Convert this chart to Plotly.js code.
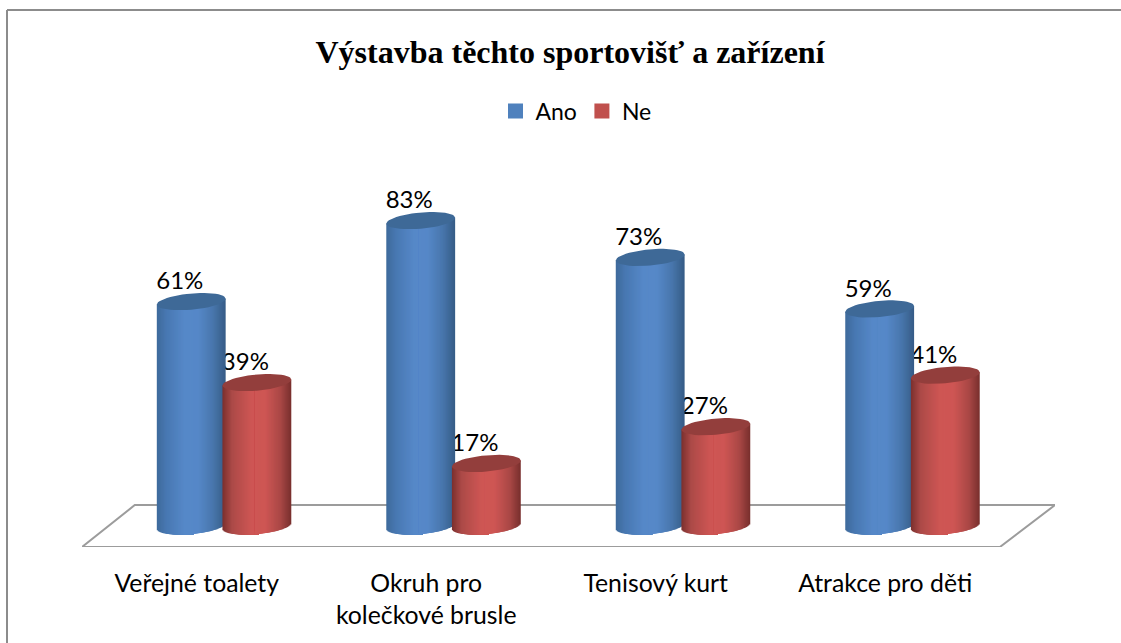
<!DOCTYPE html>
<html>
<head>
<meta charset="utf-8">
<script src="https://cdn.plot.ly/plotly-3.0.1.min.js"></script>
<style>html,body{margin:0;padding:0;background:#fff}#chart{width:1121px;height:643px}</style>
</head>
<body>
<div id="chart"></div>
<script>
const categories = ['Veřejné toalety', 'Okruh pro<br>kolečkové brusle', 'Tenisový kurt', 'Atrakce pro děti'];
const anoValues = [61, 83, 73, 59];
const neValues = [39, 17, 27, 41];
const titleText = 'Výstavba těchto sportovišť a zařízení';

const FONT = 'Lato, "Open Sans", sans-serif';
const W = 1121, H = 643;
const M = {l: 82, r: 66, t: 150, b: 96};
const xRange = [-0.5, 3.74], yRange = [-5.7, 102.2];
const ANO_OFFSET = -0.024, NE_OFFSET = 0.262;   // cylinder centres relative to the tick
const HALF = 0.15, CAP_B = 2.2, TILT = 0.8, STRIPS = 69;
const LABEL_DX = -0.05, LABEL_DY = 5.0;
const blueStops = [[0,[62,106,155]],[0.14,[72,120,178]],[0.4,[86,136,200]],[0.6,[86,136,200]],[0.82,[72,118,172]],[1,[54,92,134]]];
const redStops  = [[0,[124,48,46]],[0.14,[172,74,72]],[0.42,[206,86,84]],[0.62,[206,86,84]],[0.84,[170,72,70]],[1,[120,47,45]]];
const blueCap = '#3e6997', redCap = '#933e3c';

function shade(stops, t) {
  for (let i = 1; i < stops.length; i++) {
    if (t <= stops[i][0]) {
      const a = stops[i-1], b = stops[i], f = (t - a[0]) / (b[0] - a[0]);
      return 'rgb(' + a[1].map((c, k) => Math.round(c + (b[1][k] - c) * f)).join(',') + ')';
    }
  }
  return 'rgb(' + stops[stops.length-1][1].join(',') + ')';
}

function cylinderTraces(values, offset, stops, capColor, name, yaxis) {
  const xs = [], ys = [], bases = [], widths = [], colors = [], capX = [], capY = [];
  const step = 2 * HALF / STRIPS;
  // Strips overlap towards the cylinder's axis and are drawn outside-in, so every
  // bar stays wider than Plotly's thin-bar fade and no seams appear between them.
  const mid = Math.floor(STRIPS / 2);
  const order = [];
  for (let s = 0; s < mid; s++) order.push(s);
  for (let s = STRIPS - 1; s >= mid; s--) order.push(s);
  values.forEach((v, i) => {
    const cx = i + offset;
    order.forEach(s => {
      const t = (s + 0.5) / STRIPS, u = 2 * t - 1;
      const base = -CAP_B * Math.sqrt(1 - u * u) + TILT * u;
      const top = v + TILT * u;
      const lo = s < mid ? cx - HALF + s * step : cx - 2 * step;
      const hi = s < mid ? cx + 2 * step : cx - HALF + (s + 1) * step;
      xs.push((lo + hi) / 2); widths.push(hi - lo);
      bases.push(base); ys.push(top - base); colors.push(shade(stops, t));
    });
    for (let k = 0; k <= 48; k++) {
      const a = k / 48 * 2 * Math.PI;
      capX.push(cx + HALF * Math.cos(a));
      capY.push(v + CAP_B * Math.sin(a) + TILT * Math.cos(a));
    }
    capX.push(null); capY.push(null);
  });
  return [
    {type: 'bar', name: name, x: xs, y: ys, base: bases, width: widths, yaxis: yaxis,
     marker: {color: colors, line: {width: 0}}, showlegend: false, hoverinfo: 'skip'},
    {type: 'scatter', mode: 'lines', x: capX, y: capY, fill: 'toself', fillcolor: capColor, yaxis: yaxis,
     line: {width: 0, color: capColor}, showlegend: false, hoverinfo: 'skip'}
  ];
}

function labelTrace(values, offset, yaxis) {
  return {type: 'scatter', mode: 'text', yaxis: yaxis, cliponaxis: false,
    x: values.map((v, i) => i + offset + LABEL_DX), y: values.map(v => v + LABEL_DY),
    text: values.map(v => v + '%'), textposition: 'middle center',
    textfont: {family: FONT, size: 24, color: '#000'}, showlegend: false, hoverinfo: 'skip'};
}

function legendTrace(name, color) {
  return {type: 'scatter', mode: 'markers', name: name, x: [null], y: [null],
    marker: {symbol: 'square', size: 15, color: color}, hoverinfo: 'skip'};
}

const px = x => (x - M.l) / (W - M.l - M.r);
const py = y => (H - M.b - y) / (H - M.t - M.b);

const data = [
  legendTrace('Ano', '#4f81bd'),
  legendTrace('Ne', '#c0504d'),
  labelTrace(neValues, NE_OFFSET, 'y'),
  ...cylinderTraces(anoValues, ANO_OFFSET, blueStops, blueCap, 'Ano', 'y2'),
  labelTrace(anoValues, ANO_OFFSET, 'y2'),
  ...cylinderTraces(neValues, NE_OFFSET, redStops, redCap, 'Ne', 'y3')
];

const hiddenY = {range: yRange, visible: false, overlaying: 'y', fixedrange: true};

const layout = {
  width: W, height: H,
  margin: M,
  paper_bgcolor: '#fff', plot_bgcolor: 'rgba(0,0,0,0)',
  barmode: 'overlay',
  title: {text: titleText, x: 570 / W, xref: 'container', xanchor: 'center', y: 1 - 52 / H, yanchor: 'middle',
          font: {family: '"Liberation Serif", serif', size: 32, weight: 700, color: '#000'}},
  showlegend: true,
  legend: {orientation: 'h', x: px(576), xanchor: 'center', y: py(111), yanchor: 'middle',
           font: {family: FONT, size: 23, color: '#000'}, bgcolor: 'rgba(0,0,0,0)', itemclick: false, itemdoubleclick: false},
  xaxis: {range: xRange, tickmode: 'array', tickvals: [0, 1, 2, 3], ticktext: categories,
          showgrid: false, zeroline: false, showline: false, ticks: '', ticklabelstandoff: 19, fixedrange: true,
          tickfont: {family: FONT, size: 24.8, color: '#000'}},
  yaxis: {range: yRange, visible: false, fixedrange: true},
  yaxis2: hiddenY,
  yaxis3: Object.assign({}, hiddenY),
  shapes: [
    {type: 'path', xref: 'x', yref: 'y', layer: 'below',
     path: 'M -0.5 -5.7 L 3.5 -5.7 L 3.74 5.7 L -0.27 5.7 Z',
     line: {color: '#9c9c9c', width: 2}, fillcolor: '#fff'},
    {type: 'line', xref: 'paper', yref: 'paper', x0: px(7), x1: px(7), y0: py(10), y1: py(643), line: {color: '#8c8c8c', width: 2}},
    {type: 'line', xref: 'paper', yref: 'paper', x0: px(7), x1: px(1121), y0: py(10), y1: py(10), line: {color: '#8c8c8c', width: 2}}
  ]
};

Plotly.newPlot('chart', data, layout, {displayModeBar: false, staticPlot: true});
</script>
</body>
</html>
